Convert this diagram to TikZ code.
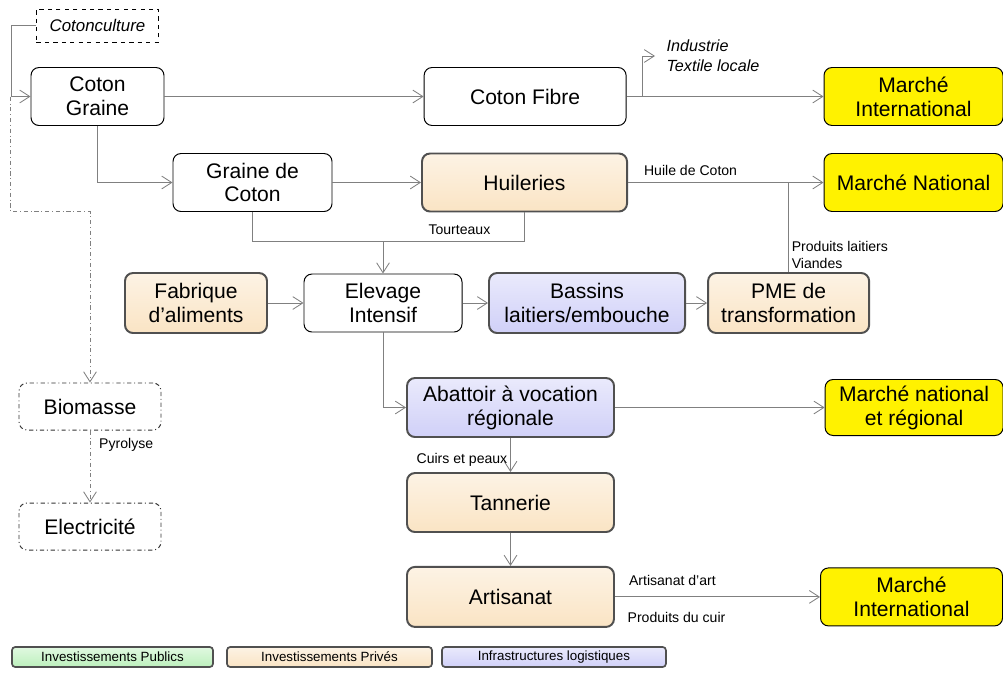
\documentclass[tikz,border=0pt]{standalone}
\usepackage{fontspec}
\setmainfont{Liberation Sans}
\usetikzlibrary{arrows.meta}

\definecolor{prive}{RGB}{250,228,196}
\definecolor{infra}{RGB}{208,208,248}
\definecolor{public}{RGB}{188,240,188}
\definecolor{lien}{RGB}{128,128,128}
\definecolor{bord}{RGB}{80,80,80}

\begin{document}
\begin{tikzpicture}[x=0.25mm, y=-0.25mm, font=\fontsize{15}{17}\selectfont,
  block/.style={rectangle, rounded corners=2mm, draw, line width=0.7pt, align=center, minimum height=14.5mm, inner sep=1pt},
  privblock/.style={block, draw=bord, line width=1.4pt, top color=prive!45, bottom color=prive},
  infrablock/.style={block, draw=bord, line width=1.4pt, top color=infra!45, bottom color=infra},
  market/.style={block, fill=yellow, draw=black},
  dashblock/.style={block, sharp corners, dashed, minimum height=8.25mm, font=\itshape\fontsize{12}{14}\selectfont},
  dotblock/.style={block, dash dot, draw=black!80, minimum height=11.75mm},
  legend/.style={rectangle, rounded corners=0.8mm, draw=bord, line width=1.2pt, minimum height=5mm, inner sep=0pt, font=\fontsize{9.5}{11}\selectfont},
  lbl/.style={font=\fontsize{10}{12.5}\selectfont, inner sep=2pt, align=left},
  link/.style={draw=lien, line width=0.6pt},
  flow/.style={link, -{Straight Barb[length=2.5mm, width=3.2mm]}},
  bioflow/.style={flow, dash dot}]
  \useasboundingbox (0,0) rectangle (1003,673);

  % filiere coton
  \node[block, minimum width=33.25mm] (cg) at (97.5,96.5) {Coton\\Graine};
  \node[dashblock, minimum width=30.5mm, above of=cg, node distance=17.75mm] (cotonc) {Cotonculture};
  \node[block, minimum width=50.5mm, right of=cg, node distance=106.9mm] (cf) {Coton Fibre};
  \node[market, minimum width=44.75mm, right of=cf, node distance=97.1mm] (mi1) {Marché\\International};
  \node[lbl, font=\itshape\fontsize{11.5}{14}\selectfont, inner xsep=8pt, anchor=west] (indus) at (655,56) {Industrie\\Textile locale};

  \node[block, minimum width=39.75mm] (gc) at (252.5,182.5) {Graine de\\Coton};
  \node[privblock, minimum width=51.25mm, right of=gc, node distance=68mm] (huil) {Huileries};
  \node[market, minimum width=44.75mm, right of=huil, node distance=97.25mm] (mn) {Marché National};

  % elevage
  \node[privblock, minimum width=35.5mm, minimum height=15mm] (fab) at (196,303) {Fabrique\\d’aliments};
  \node[block, minimum width=39.5mm, right of=fab, node distance=46.75mm] (elev) {Elevage\\Intensif};
  \node[infrablock, minimum width=49mm, minimum height=15mm, right of=elev, node distance=51mm] (bass) {Bassins\\laitiers/embouche};
  \node[privblock, minimum width=40.25mm, minimum height=15mm, right of=bass, node distance=50.4mm] (pme) {PME de\\transformation};
  \coordinate (tourt) at ([yshift=8mm]elev.north);

  \node[infrablock, minimum width=51.75mm, minimum height=14.75mm] (abat) at (510.5,407.5) {Abattoir à vocation\\régionale};
  \node[market, minimum width=44.5mm, minimum height=14mm, right of=abat, node distance=100.9mm] (mnr) {Marché national\\et régional};
  \node[privblock, minimum width=51.75mm, minimum height=14.75mm, below of=abat, node distance=23.75mm] (tann) {Tannerie};
  \node[privblock, minimum width=51.75mm, minimum height=15mm, below of=tann, node distance=23.6mm] (arti) {Artisanat};
  \node[market, minimum width=45.5mm, right of=arti, node distance=100.25mm] (mi2) {Marché\\International};

  % energie
  \node[dotblock, minimum width=35.5mm] (bio) at (90,406.5) {Biomasse};
  \node[dotblock, minimum width=35.5mm, below of=bio, node distance=30mm] (elec) {Electricité};

  % legende
  \node[legend, minimum width=50.25mm, top color=public!45, bottom color=public] (pub) at (112.5,657) {Investissements Publics};
  \node[legend, minimum width=51.25mm, top color=prive!45, bottom color=prive, right of=pub, node distance=54.25mm] (priv) {Investissements Privés};
  \node[legend, minimum width=56mm, top color=infra!45, bottom color=infra, right of=priv, node distance=56.1mm] (logi) {Infrastructures logistiques};

  % liaisons
  \draw[flow] (cotonc.west) -- ++(-25,0) |- (cg.west);
  \draw[bioflow] ([xshift=-5mm]cg.west) -- ++(0,115) -| (bio.north);
  \draw[bioflow] (bio) -- node[lbl, right, pos=0.2, xshift=1.5mm] {Pyrolyse} (elec);
  \draw[flow] (cg) -- (cf);
  \draw[flow] (cf) -- (mi1);
  \draw[flow] ([xshift=4mm]cf.east) |- (indus.west);
  \draw[flow] (cg.south) |- (gc.west);
  \draw[flow] (gc) -- (huil);
  \draw[flow] (huil) -- node[lbl, above=1mm, pos=0.32] {Huile de Coton} (mn);
  \draw[link] (pme.north) -- node[lbl, pos=0, anchor=south west] {Produits laitiers\\Viandes} (pme.north |- mn.west);
  \draw[link] (gc.south) |- (tourt) -| node[lbl, above=0.8mm, pos=0.27] {Tourteaux} (huil.south);
  \draw[flow] (tourt) -- (elev);
  \draw[flow] (fab) -- (elev);
  \draw[flow] (elev) -- (bass);
  \draw[flow] (bass) -- (pme);
  \draw[flow] (elev.south) |- (abat.west);
  \draw[flow] (abat) -- (mnr);
  \draw[flow] (abat) -- node[lbl, left, pos=0.65] {Cuirs et peaux} (tann);
  \draw[flow] (tann) -- (arti);
  \draw[flow] (arti) -- node[lbl, above=2mm, pos=0.28] {Artisanat d’art} node[lbl, below=3mm, pos=0.3] {Produits du cuir} (mi2);
\end{tikzpicture}
\end{document}
